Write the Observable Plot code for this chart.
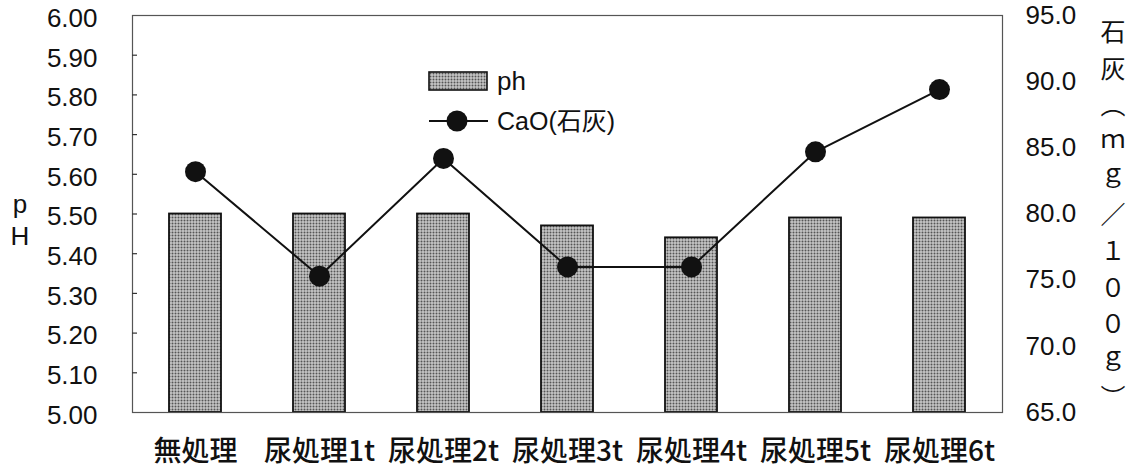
<!DOCTYPE html>
<html>
<head>
<meta charset="utf-8">
<script src="https://cdn.jsdelivr.net/npm/d3@7"></script>
<script src="https://cdn.jsdelivr.net/npm/@observablehq/plot@0.6"></script>
<style>
  html, body { margin: 0; padding: 0; background: #fff; }
  #wrap { position: relative; width: 1135px; height: 471px; overflow: hidden; }
  .ttl { position: absolute; font-family: "Liberation Sans", Arial, sans-serif; color: #111; }
  #ylabL { left: 6px; top: 188px; width: 28px; text-align: center; font-size: 26px; line-height: 32px; }
  #ylabR { left: 1098px; top: 19px; font-family: "Noto Sans CJK JP", sans-serif; font-size: 25px;
           writing-mode: vertical-rl; letter-spacing: 11.6px; line-height: 30px; }
  #legend { position: absolute; left: 420px; top: 60px; }
</style>
</head>
<body>
<div id="wrap"></div>
<script>
// ---- data ----
const categories = ["無処理", "尿処理1t", "尿処理2t", "尿処理3t", "尿処理4t", "尿処理5t", "尿処理6t"];
const phValues   = [5.50, 5.50, 5.50, 5.47, 5.44, 5.49, 5.49];
const caoValues  = [83.2, 75.3, 84.2, 76.0, 76.0, 84.7, 89.4];
const phTicks    = [5.0, 5.1, 5.2, 5.3, 5.4, 5.5, 5.6, 5.7, 5.8, 5.9, 6.0];
const caoTicks   = [65, 70, 75, 80, 85, 90, 95];
const phDomain   = [5, 6];
const caoDomain  = [65, 95];

const data = categories.map((c, i) => ({cat: c, ph: phValues[i], cao: caoValues[i]}));
const toPh = d3.scaleLinear(caoDomain, phDomain);

const W = 1135, H = 471, ML = 132, MR = 133, MT = 15, MB = 59;
const innerTick = 5;

const chart = Plot.plot({
  width: W,
  height: H,
  marginLeft: ML,
  marginRight: MR,
  marginTop: MT,
  marginBottom: MB,
  style: {fontFamily: "'Liberation Sans', Arial, sans-serif", fontSize: "26px", color: "#111", background: "#fff"},
  x: {domain: categories, paddingInner: 0.58, paddingOuter: 0.29, label: null},
  y: {domain: phDomain, label: null},
  marks: [
    Plot.barY(data, {x: "cat", y1: phDomain[0], y2: "ph", fill: "url(#dots)", stroke: "#111", strokeWidth: 1.8}),
    Plot.frame({stroke: "#555", strokeWidth: 1.2}),
    Plot.tickY(phTicks.slice(1, -1), {y: d => d, stroke: "#333", strokeWidth: 1.2, insetRight: W - ML - MR - innerTick}),
    Plot.axisY(phTicks, {anchor: "left", tickSize: 0, tickPadding: 35, dy: 3, tickFormat: d => d.toFixed(2)}),
    Plot.axisY(caoTicks.map(v => toPh(v)), {anchor: "right", tickSize: 0, tickPadding: 23, tickFormat: d => toPh.invert(d).toFixed(1)}),
    Plot.axisX({tickSize: 0, tickPadding: 29, fontSize: 28, fontFamily: "'Noto Sans CJK JP', sans-serif", fontWeight: 500}),
    Plot.lineY(data, {x: "cat", y: d => toPh(d.cao), stroke: "#111", strokeWidth: 2}),
    Plot.dot(data, {x: "cat", y: d => toPh(d.cao), r: 10.5, fill: "#111", stroke: "none"})
  ]
});

const patternDef = `<pattern id="dots" patternUnits="userSpaceOnUse" width="3" height="3">
  <rect width="3" height="3" fill="#c6c6c6"></rect>
  <circle cx="1.5" cy="1.5" r="1" fill="#555"></circle></pattern>`;
d3.select(chart).insert("defs", ":first-child").html(patternDef);

const wrap = document.getElementById("wrap");
wrap.appendChild(chart);

// axis titles
const l = document.createElement("div");
l.className = "ttl"; l.id = "ylabL"; l.innerHTML = "p<br>H";
wrap.appendChild(l);
const r = document.createElement("div");
r.className = "ttl"; r.id = "ylabR"; r.textContent = "石灰（ｍｇ／１００ｇ）";
wrap.appendChild(r);

// legend
const lg = document.createElement("div");
lg.id = "legend";
lg.innerHTML = `<svg width="260" height="80" style="font-family:'Liberation Sans',Arial,sans-serif">
  <defs>${patternDef.replace('id="dots"', 'id="dots2"')}</defs>
  <rect x="9" y="12" width="58" height="18" fill="url(#dots2)" stroke="#111" stroke-width="1.6"></rect>
  <text x="77" y="30" font-size="26" fill="#111">ph</text>
  <line x1="9" x2="68" y1="61" y2="61" stroke="#111" stroke-width="2"></line>
  <circle cx="37" cy="61" r="10.5" fill="#111"></circle>
  <text x="77" y="70" font-size="25" fill="#111">CaO(<tspan font-family="'Noto Sans CJK JP',sans-serif">石灰</tspan>)</text>
</svg>`;
wrap.appendChild(lg);
</script>
</body>
</html>
